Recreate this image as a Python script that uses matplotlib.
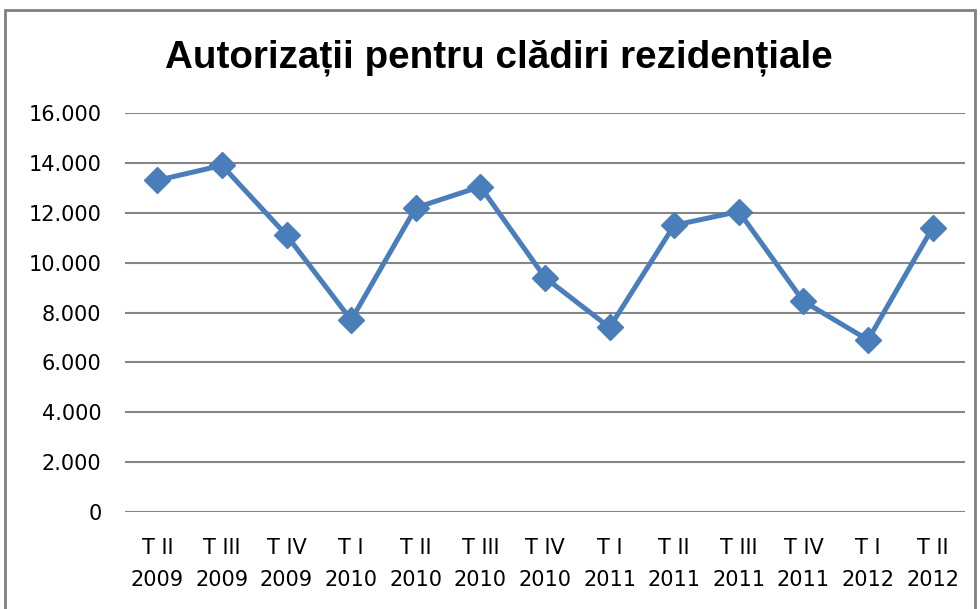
import matplotlib.pyplot as plt
from matplotlib.patches import Rectangle
from matplotlib.ticker import FuncFormatter

# === DATA ===
quarters = ["T II", "T III", "T IV", "T I", "T II", "T III", "T IV",
            "T I", "T II", "T III", "T IV", "T I", "T II"]
years = ["2009", "2009", "2009", "2010", "2010", "2010", "2010",
         "2011", "2011", "2011", "2011", "2012", "2012"]
authorizations = [13300, 13900, 11100, 7700, 12200, 13050, 9400,
                  7400, 11500, 12050, 8450, 6900, 11400]

LINE_COLOR = "#4A7EBB"
GRID_COLOR = "#868686"

fig = plt.figure(figsize=(9.8, 6.09), dpi=100)
ax = fig.add_axes([0.1276, 0.1593, 0.857, 0.6551])

x = list(range(len(authorizations)))
ax.plot(x, authorizations, color=LINE_COLOR, linewidth=3.6,
        marker="D", markersize=13.5, markerfacecolor=LINE_COLOR,
        markeredgecolor=LINE_COLOR, zorder=3)

ax.set_xlim(-0.5, len(x) - 0.5)
ax.set_ylim(0, 16000)
ax.set_yticks(range(0, 16001, 2000))
ax.yaxis.set_major_formatter(FuncFormatter(lambda v, p: f"{int(v):,}".replace(",", ".")))
ax.set_xticks(x)
ax.set_xticklabels([f"{q}\n{y}" for q, y in zip(quarters, years)], linespacing=1.75)

ax.grid(axis="y", color=GRID_COLOR, linewidth=1.5)
ax.set_axisbelow(True)
for s in ax.spines.values():
    s.set_visible(False)
ax.tick_params(axis="both", length=0, labelcolor="black")
ax.tick_params(axis="y", pad=17)
ax.tick_params(axis="x", pad=19)
for lbl in ax.get_xticklabels() + ax.get_yticklabels():
    lbl.set_fontfamily("DejaVu Sans")
    lbl.set_fontsize(15)

fig.text(0.509, 0.905, "Autorizații pentru clădiri rezidențiale",
         ha="center", va="center", fontsize=27.8, fontweight="bold",
         family="Liberation Sans")

# chart border
fig.patches.append(Rectangle((0.005, -0.01), 0.99, 0.993, transform=fig.transFigure,
                             fill=False, edgecolor="#808080", linewidth=2))

fig.savefig("out.png", dpi=100)
